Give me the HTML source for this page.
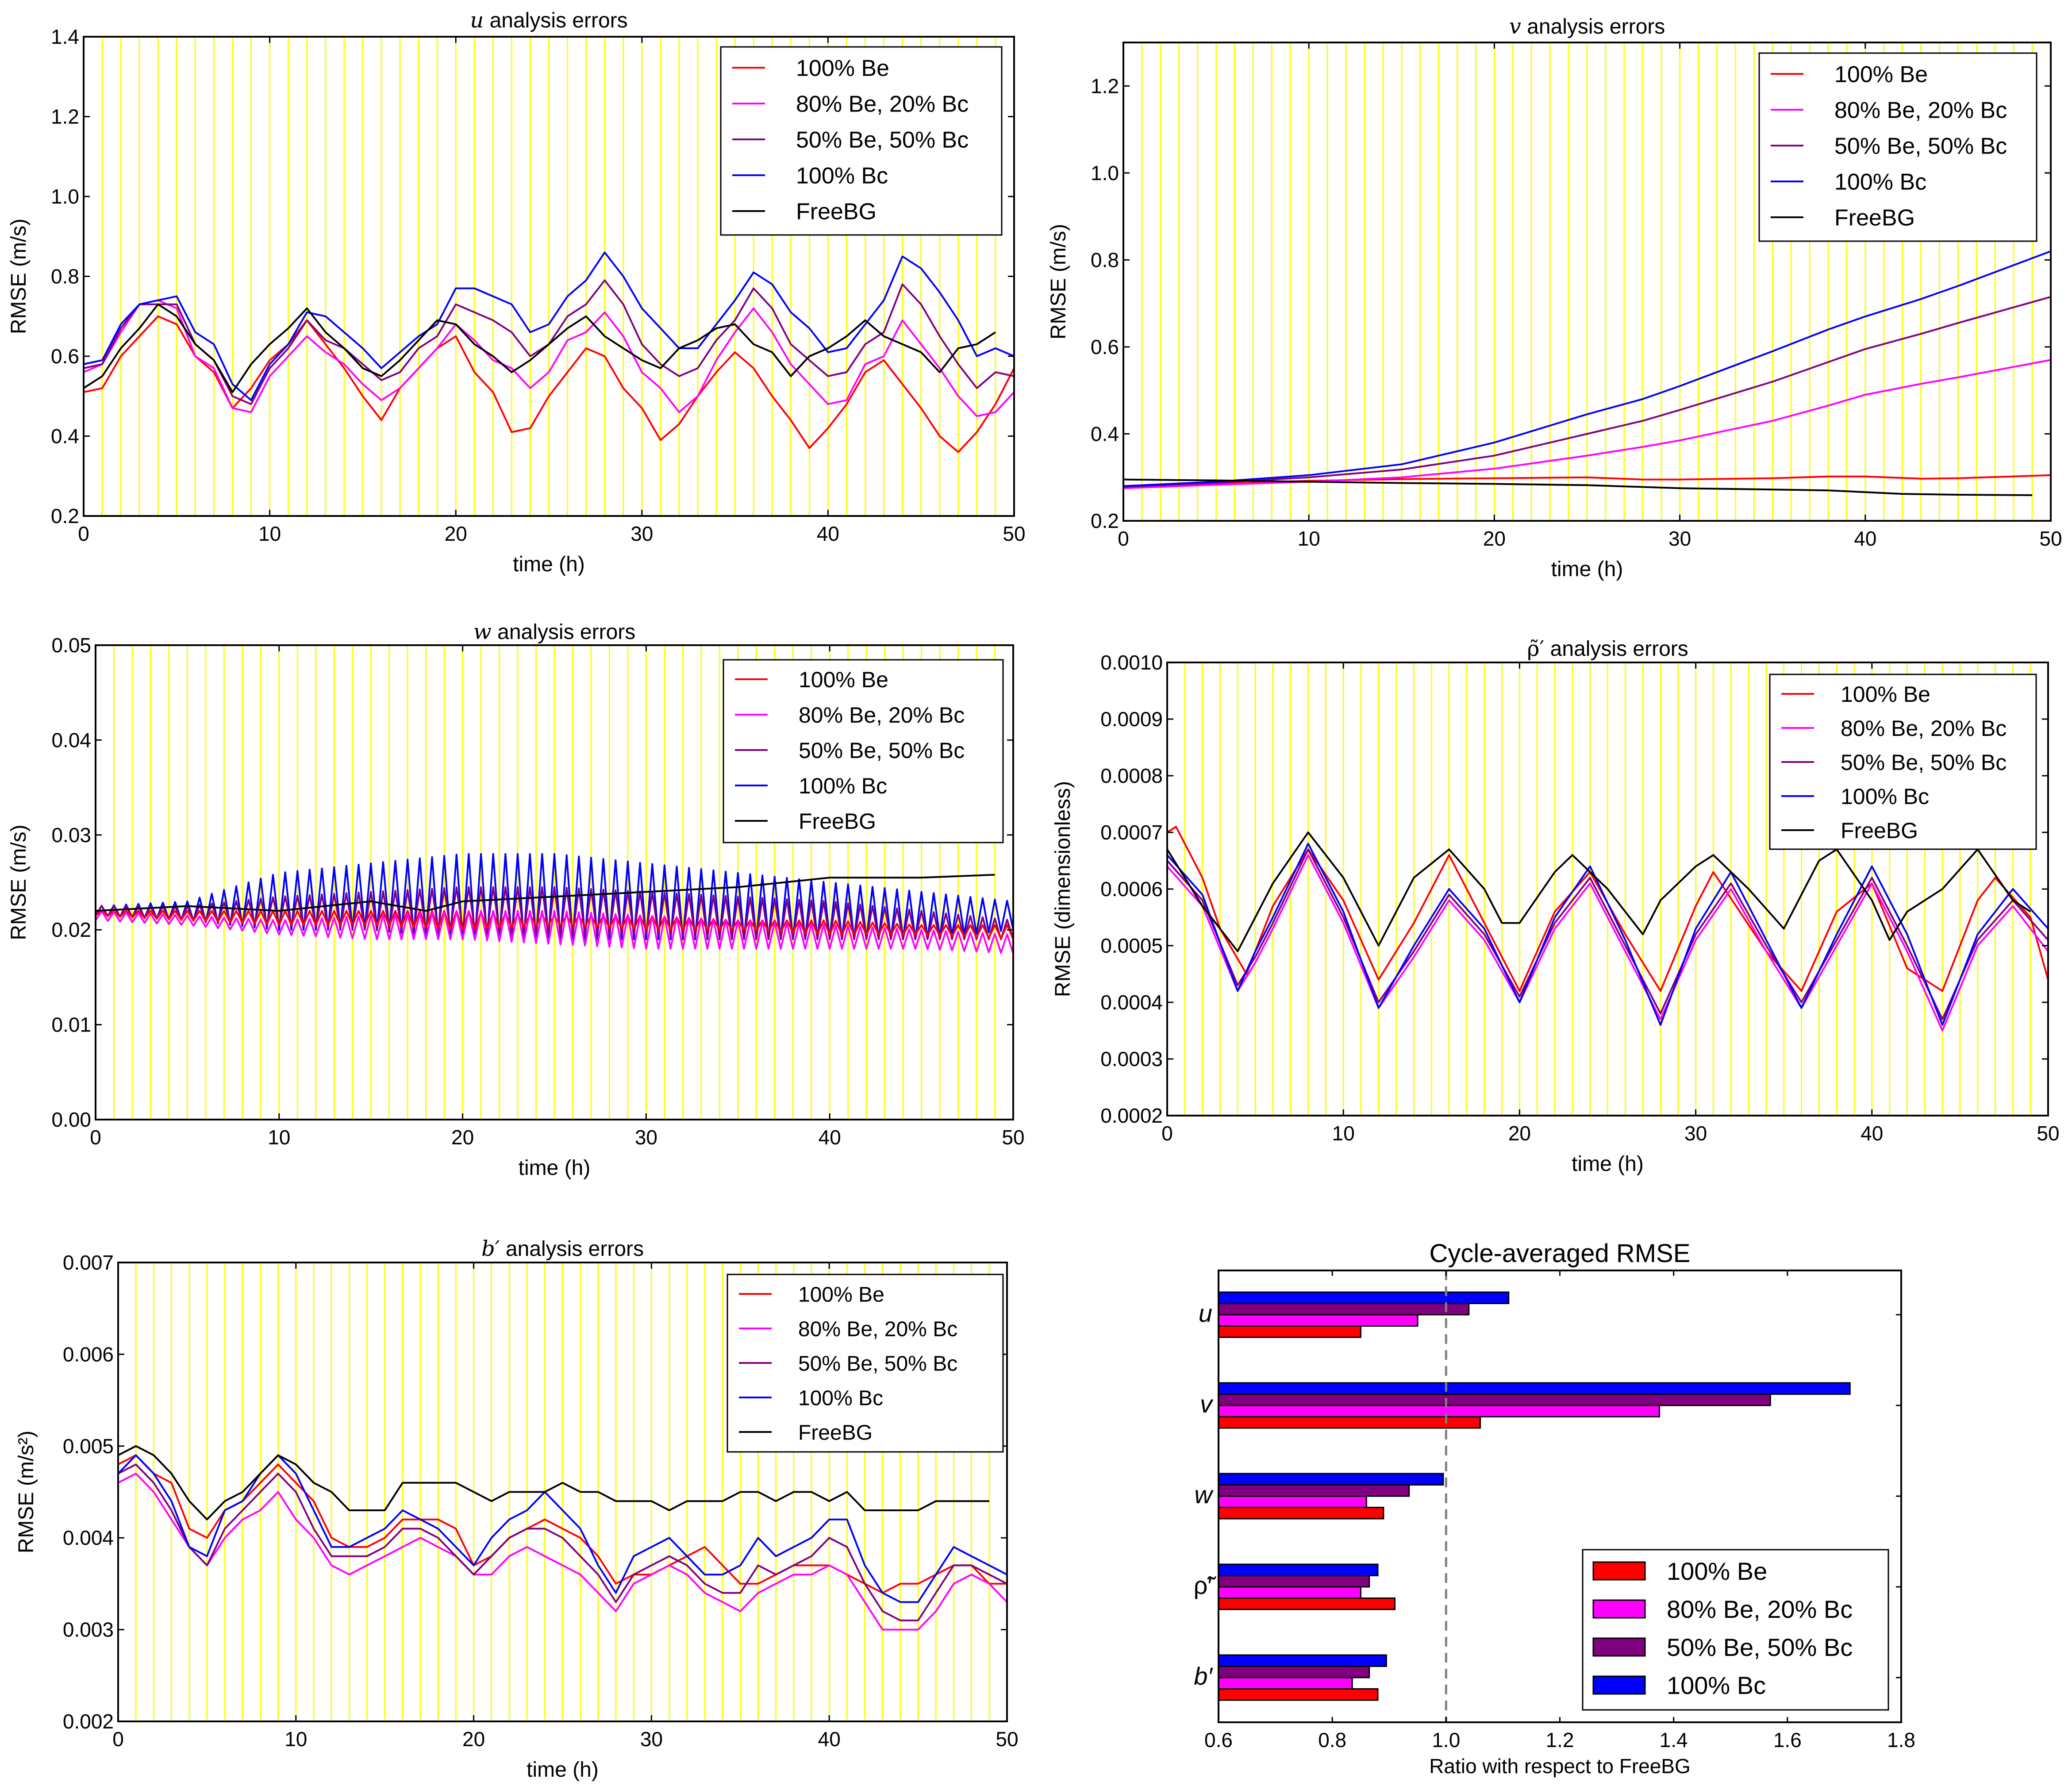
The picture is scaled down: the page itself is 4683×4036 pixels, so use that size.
<!DOCTYPE html>
<html><head><meta charset="utf-8"><style>
html,body{margin:0;padding:0;background:#fff}
svg{display:block}
text{font-family:"Liberation Sans","DejaVu Sans",sans-serif;fill:#000}
</style></head><body>
<svg id="fig" width="4683" height="4036" viewBox="0 0 4683 4036" xmlns="http://www.w3.org/2000/svg"></svg>
<script>
// ---------- data ----------
const hours51 = Array.from({length:51},(_,i)=>i);
const hours50 = Array.from({length:50},(_,i)=>i);
const seriesNames = ["100% Be","80% Be, 20% Bc","50% Be, 50% Bc","100% Bc","FreeBG"];
const seriesColors = ["#ff0000","#ff00ff","#800080","#0000ff","#000000"];

const uRed=[0.51,0.52,0.6,0.65,0.7,0.68,0.6,0.56,0.47,0.52,0.59,0.63,0.69,0.63,0.57,0.5,0.44,0.52,0.57,0.62,0.65,0.56,0.51,0.41,0.42,0.5,0.56,0.62,0.6,0.52,0.47,0.39,0.43,0.5,0.56,0.61,0.57,0.5,0.44,0.37,0.42,0.48,0.56,0.59,0.53,0.47,0.4,0.36,0.41,0.48,0.57];
const uMag=[0.56,0.58,0.66,0.73,0.74,0.72,0.6,0.57,0.47,0.46,0.55,0.6,0.65,0.61,0.58,0.53,0.49,0.52,0.57,0.62,0.68,0.64,0.59,0.57,0.52,0.56,0.64,0.66,0.71,0.65,0.56,0.52,0.46,0.5,0.59,0.66,0.72,0.66,0.58,0.53,0.48,0.49,0.58,0.6,0.69,0.63,0.57,0.5,0.45,0.46,0.51];
const uPur=[0.57,0.58,0.67,0.73,0.73,0.73,0.63,0.59,0.5,0.48,0.57,0.62,0.69,0.64,0.62,0.58,0.54,0.56,0.62,0.65,0.73,0.71,0.69,0.66,0.6,0.63,0.7,0.73,0.79,0.73,0.63,0.58,0.55,0.57,0.64,0.69,0.77,0.72,0.63,0.59,0.55,0.56,0.63,0.66,0.78,0.73,0.65,0.58,0.52,0.56,0.55];
const uBlu=[0.58,0.59,0.68,0.73,0.74,0.75,0.66,0.63,0.53,0.49,0.58,0.63,0.71,0.7,0.66,0.62,0.57,0.61,0.65,0.68,0.77,0.77,0.75,0.73,0.66,0.68,0.75,0.79,0.86,0.8,0.72,0.67,0.62,0.62,0.68,0.74,0.81,0.78,0.71,0.67,0.61,0.62,0.68,0.74,0.85,0.82,0.76,0.69,0.6,0.62,0.6];
const uFree=[0.52,0.55,0.62,0.67,0.73,0.7,0.63,0.59,0.51,0.58,0.63,0.67,0.72,0.66,0.62,0.57,0.55,0.59,0.64,0.69,0.68,0.63,0.6,0.56,0.59,0.63,0.67,0.7,0.65,0.62,0.59,0.57,0.62,0.64,0.67,0.68,0.63,0.61,0.55,0.6,0.62,0.65,0.69,0.65,0.63,0.61,0.56,0.62,0.63,0.66];

const vTimes=[0,5,10,15,20,25,28,30,35,38,40,43,45,50];
const vRed=[0.278,0.285,0.292,0.296,0.298,0.3,0.295,0.295,0.298,0.302,0.302,0.297,0.298,0.305];
const vMag=[0.275,0.283,0.29,0.3,0.32,0.35,0.37,0.385,0.43,0.465,0.49,0.515,0.53,0.57];
const vPur=[0.278,0.288,0.3,0.318,0.35,0.4,0.43,0.455,0.52,0.565,0.595,0.63,0.655,0.715];
const vBlu=[0.28,0.29,0.305,0.33,0.38,0.445,0.48,0.51,0.59,0.64,0.67,0.71,0.74,0.82];
const vFreeT=[0,5,10,15,20,25,30,35,38,42,45,49];
const vFree=[0.295,0.293,0.29,0.287,0.285,0.282,0.275,0.272,0.27,0.262,0.26,0.259];

const wEnvT=[0,5,10,15,20,25,30,35,40,45,50];
const wRedLo=[0.0215,0.021,0.0205,0.0205,0.02,0.0205,0.02,0.02,0.0195,0.0195,0.019];
const wRedHi=[0.022,0.022,0.022,0.022,0.022,0.0215,0.0215,0.021,0.021,0.0205,0.0205];
const wMagLo=[0.021,0.0205,0.0195,0.019,0.019,0.0185,0.018,0.018,0.018,0.018,0.0175];
const wMagHi=[0.022,0.0215,0.021,0.0215,0.022,0.022,0.0215,0.021,0.0205,0.02,0.0195];
const wPurLo=[0.0215,0.021,0.0205,0.02,0.02,0.0195,0.0195,0.019,0.019,0.019,0.019];
const wPurHi=[0.0225,0.0225,0.0235,0.024,0.0245,0.0245,0.024,0.0235,0.023,0.022,0.021];
const wBluLo=[0.0215,0.021,0.02,0.02,0.019,0.019,0.019,0.019,0.019,0.019,0.02];
const wBluHi=[0.0225,0.023,0.026,0.027,0.028,0.028,0.027,0.026,0.025,0.024,0.023];
const wFreeT=[0,5,10,15,18,20,25,30,35,40,45,49];
const wFree=[0.022,0.0225,0.022,0.023,0.022,0.023,0.0235,0.024,0.0245,0.0255,0.0255,0.0258];

const rT=[0,2,4,5,6,8,10,12,14,16,18,20,22,24,26,28,30,32,34,36,38,40,42,44,46,48,50];
const rBlu=[0.00066,0.00059,0.00042,0.00049,0.00055,0.00068,0.00056,0.00039,0.0005,0.0006,0.00053,0.0004,0.00055,0.00064,0.00051,0.00036,0.00053,0.00063,0.00051,0.00039,0.00052,0.00064,0.00052,0.00036,0.00052,0.0006,0.00053];
const rPur=[0.00065,0.00058,0.00043,0.00048,0.00054,0.00067,0.00055,0.0004,0.00049,0.00059,0.00052,0.00041,0.00054,0.00062,0.0005,0.00038,0.00052,0.00061,0.0005,0.0004,0.00051,0.00062,0.0005,0.00037,0.00051,0.00058,0.00051];
const rMag=[0.00064,0.00057,0.00042,0.00047,0.00053,0.00066,0.00054,0.00039,0.00048,0.00058,0.00051,0.0004,0.00053,0.00061,0.00049,0.00037,0.00051,0.0006,0.00049,0.00039,0.0005,0.00061,0.00049,0.00035,0.0005,0.00057,0.00049];
const rRedT=[0,0.5,2,3,4.5,6,8,10,12,14,16,18,20,22,24,26,28,30,31,34,36,38,40,42,44,46,47,49,50];
const rRed=[0.0007,0.00071,0.00062,0.00053,0.00045,0.00057,0.00067,0.00058,0.00044,0.00054,0.00066,0.00054,0.00042,0.00056,0.00063,0.00052,0.00042,0.00057,0.00063,0.00049,0.00042,0.00056,0.00061,0.00046,0.00042,0.00058,0.00062,0.00055,0.00044];
const rFreeT=[0,2,4,6,8,10,12,14,16,18,19,20,22,23,25,27,28,30,31,33,35,37,38,40,41,42,44,46,48,49];
const rFree=[0.00067,0.00057,0.00049,0.00061,0.0007,0.00062,0.0005,0.00062,0.00067,0.0006,0.00054,0.00054,0.00063,0.00066,0.0006,0.00052,0.00058,0.00064,0.00066,0.0006,0.00053,0.00065,0.00067,0.00058,0.00051,0.00056,0.0006,0.00067,0.00058,0.00056];

const bRed=[0.0048,0.0049,0.0047,0.0046,0.0041,0.004,0.0043,0.0044,0.0046,0.0048,0.0046,0.0044,0.004,0.0039,0.0039,0.004,0.0042,0.0042,0.0042,0.0041,0.0037,0.0038,0.004,0.0041,0.0042,0.0041,0.004,0.0038,0.0035,0.0036,0.0036,0.0037,0.0038,0.0039,0.0037,0.0035,0.0035,0.0036,0.0037,0.0037,0.0037,0.0036,0.0035,0.0034,0.0035,0.0035,0.0036,0.0037,0.0037,0.0035,0.0035];
const bMag=[0.0046,0.0047,0.0045,0.0042,0.0039,0.0037,0.004,0.0042,0.0043,0.0045,0.0042,0.004,0.0037,0.0036,0.0037,0.0038,0.0039,0.004,0.0039,0.0038,0.0036,0.0036,0.0038,0.0039,0.0038,0.0037,0.0036,0.0034,0.0032,0.0035,0.0036,0.0037,0.0036,0.0034,0.0033,0.0032,0.0034,0.0035,0.0036,0.0036,0.0037,0.0036,0.0033,0.003,0.003,0.003,0.0032,0.0035,0.0036,0.0035,0.0033];
const bPur=[0.0047,0.0048,0.0046,0.0043,0.0039,0.0037,0.0041,0.0043,0.0045,0.0047,0.0045,0.0041,0.0038,0.0038,0.0038,0.0039,0.0041,0.0041,0.004,0.0038,0.0036,0.0038,0.004,0.0041,0.0041,0.004,0.0038,0.0036,0.0033,0.0036,0.0037,0.0038,0.0037,0.0035,0.0034,0.0034,0.0037,0.0036,0.0037,0.0038,0.004,0.0039,0.0035,0.0032,0.0031,0.0031,0.0034,0.0037,0.0037,0.0036,0.0035];
const bBlu=[0.0047,0.0049,0.0047,0.0044,0.0039,0.0038,0.0043,0.0044,0.0047,0.0049,0.0047,0.0043,0.0039,0.0039,0.004,0.0041,0.0043,0.0042,0.0041,0.0039,0.0037,0.004,0.0042,0.0043,0.0045,0.0043,0.0041,0.0037,0.0034,0.0038,0.0039,0.004,0.0038,0.0036,0.0036,0.0037,0.004,0.0038,0.0039,0.004,0.0042,0.0042,0.0037,0.0034,0.0033,0.0033,0.0036,0.0039,0.0038,0.0037,0.0036];
const bFree=[0.0049,0.005,0.0049,0.0047,0.0044,0.0042,0.0044,0.0045,0.0047,0.0049,0.0048,0.0046,0.0045,0.0043,0.0043,0.0043,0.0046,0.0046,0.0046,0.0046,0.0045,0.0044,0.0045,0.0045,0.0045,0.0046,0.0045,0.0045,0.0044,0.0044,0.0044,0.0043,0.0044,0.0044,0.0044,0.0045,0.0045,0.0044,0.0045,0.0045,0.0044,0.0045,0.0043,0.0043,0.0043,0.0043,0.0044,0.0044,0.0044,0.0044];

const barCategories=["u","v","w","ρ̃′","b′"];
const barRed=[0.85,1.06,0.89,0.91,0.88];
const barMag=[0.95,1.375,0.86,0.85,0.835];
const barPur=[1.04,1.57,0.935,0.865,0.865];
const barBlu=[1.11,1.71,0.995,0.88,0.895];
const barXTicks=[0.6,0.8,1.0,1.2,1.4,1.6,1.8];

// ---------- helpers ----------
const NS="http://www.w3.org/2000/svg";
const fig=document.getElementById('fig');
function mk(tag,attrs,parent){const e=document.createElementNS(NS,tag);for(const k in attrs)e.setAttribute(k,attrs[k]);(parent||fig).appendChild(e);return e;}
function txt(x,y,s,size,anchor,parent,extra){const e=mk('text',Object.assign({x:x,y:y,'font-size':size,'text-anchor':anchor||'middle'},extra||{}),parent);e.textContent=s;return e;}

function panel(cfg){
  const g=mk('g',{});
  
  
  const {L,R,T,B,x0,x1,y0,y1}=cfg;
  const sx=v=>L+(v-x0)/(x1-x0)*(R-L);
  const sy=v=>B-(v-y0)/(y1-y0)*(B-T);
  for(let h=1;h<50;h++){const l=mk('line',{x1:sx(h),x2:sx(h),y1:T,y2:B,stroke:'#ffff00','stroke-width':3},g);
    }
  cfg.series.forEach((s,i)=>{
    const d=s.t.map((t,j)=>(j?'L':'M')+sx(t).toFixed(1)+','+sy(s.v[j]).toFixed(1)).join('');
    const p=mk('path',{d:d,fill:'none',stroke:s.color,'stroke-width':4,'stroke-linejoin':'round'},g);
    
    
  });
  const fr=mk('rect',{x:L,y:T,width:R-L,height:B-T,fill:'none',stroke:'#000','stroke-width':4},g);
  
  [0,10,20,30,40,50].forEach(v=>{
    mk('line',{x1:sx(v),x2:sx(v),y1:B,y2:B-14,stroke:'#000','stroke-width':3},g);
    mk('line',{x1:sx(v),x2:sx(v),y1:T,y2:T+14,stroke:'#000','stroke-width':3},g);
    const t=txt(sx(v),B+56,String(v),46,'middle',g);
    
  });
  cfg.yticks.forEach((v,k)=>{
    mk('line',{x1:L,x2:L+14,y1:sy(v),y2:sy(v),stroke:'#000','stroke-width':3},g);
    mk('line',{x1:R,x2:R-14,y1:sy(v),y2:sy(v),stroke:'#000','stroke-width':3},g);
    const t=txt(L-10,sy(v)+16,cfg.ylabels[k],46,'end',g);
    
  });
  const xl=txt((L+R)/2,B+125,'time (h)',48,'middle',g);
  
  const yl=txt(0,0,cfg.ylabel,48,'middle',g,{transform:`translate(${cfg.ylx},${(T+B)/2}) rotate(-90)`});
  
  const ti=mk('text',{x:(L+R)/2,y:cfg.titleY,'font-size':48,'text-anchor':'middle'},g);
  
  ti.innerHTML=`<tspan font-family="DejaVu Serif" font-style="${cfg.symStyle||'italic'}">${cfg.sym}</tspan> analysis errors`;
  const lg=cfg.leg;
  const lb=mk('rect',{x:lg.x,y:lg.y,width:lg.w,height:lg.h,fill:'#fff',stroke:'#000','stroke-width':3},g);
  
  seriesNames.forEach((n,i)=>{
    const yy=lg.y+lg.first+i*lg.step;
    const ln=mk('line',{x1:lg.x+26,x2:lg.x+100,y1:yy,y2:yy,stroke:seriesColors[i],'stroke-width':4},g);
    
    const t=txt(lg.x+lg.tx,yy+lg.fs*0.36,n,lg.fs,'start',g);
    
  });
}
function zig(lo,hi){
  const t=[],v=[];
  for(let k=0;k<=150;k++){const tt=k/3;const seg=Math.min(9,Math.floor(tt/5));const f=(tt-wEnvT[seg])/5;
    const l=lo[seg]+(lo[seg+1]-lo[seg])*f,h=hi[seg]+(hi[seg+1]-hi[seg])*f;t.push(tt);v.push(k%2?h:l);}
  return {t,v};
}
const S=(key,ci,t,v)=>({key,color:seriesColors[ci],t,v});

panel({name:'u-panel',L:189,R:2292,T:83,B:1166,x0:0,x1:50,y0:0.2,y1:1.4,
  yticks:[0.2,0.4,0.6,0.8,1.0,1.2,1.4],ylabels:['0.2','0.4','0.6','0.8','1.0','1.2','1.4'],
  ylabel:'RMSE (m/s)',ylx:58,titleY:62,sym:'u',
  leg:{x:1629,y:106,w:635,h:425,first:47,step:81,tx:170,fs:52},
  series:[S('100-be',0,hours51,uRed),S('80-be',1,hours51,uMag),S('50-be',2,hours51,uPur),S('100-bc',3,hours51,uBlu),S('freebg',4,hours50,uFree)]});

panel({name:'v-panel',L:2539,R:4635,T:96,B:1177,x0:0,x1:50,y0:0.2,y1:1.3,
  yticks:[0.2,0.4,0.6,0.8,1.0,1.2],ylabels:['0.2','0.4','0.6','0.8','1.0','1.2'],
  ylabel:'RMSE (m/s)',ylx:2408,titleY:76,sym:'v',
  leg:{x:3976,y:120,w:627,h:425,first:47,step:81,tx:170,fs:52},
  series:[S('100-be',0,vTimes,vRed),S('80-be',1,vTimes,vMag),S('50-be',2,vTimes,vPur),S('100-bc',3,vTimes,vBlu),S('freebg',4,vFreeT,vFree)]});

const zr=zig(wRedLo,wRedHi),zm=zig(wMagLo,wMagHi),zp=zig(wPurLo,wPurHi),zb=zig(wBluLo,wBluHi);
panel({name:'w-panel',L:216,R:2290,T:1458,B:2530,x0:0,x1:50,y0:0,y1:0.05,
  yticks:[0,0.01,0.02,0.03,0.04,0.05],ylabels:['0.00','0.01','0.02','0.03','0.04','0.05'],
  ylabel:'RMSE (m/s)',ylx:58,titleY:1444,sym:'w',
  leg:{x:1635,y:1491,w:632,h:413,first:44,step:80,tx:170,fs:50},
  series:[S('100-bc',3,zb.t,zb.v),S('50-be',2,zp.t,zp.v),S('100-be',0,zr.t,zr.v),S('80-be',1,zm.t,zm.v),S('freebg',4,wFreeT,wFree)]});

panel({name:'rho-panel',L:2638,R:4629,T:1497,B:2521,x0:0,x1:50,y0:0.0002,y1:0.001,
  yticks:[0.0002,0.0003,0.0004,0.0005,0.0006,0.0007,0.0008,0.0009,0.001],
  ylabels:['0.0002','0.0003','0.0004','0.0005','0.0006','0.0007','0.0008','0.0009','0.0010'],
  ylabel:'RMSE (dimensionless)',ylx:2418,titleY:1482,sym:'ρ̃′',symStyle:'normal',
  leg:{x:4000,y:1524,w:602,h:395,first:44,step:77,tx:160,fs:50},
  series:[S('100-be',0,rRedT,rRed),S('80-be',1,rT,rMag),S('50-be',2,rT,rPur),S('100-bc',3,rT,rBlu),S('freebg',4,rFreeT,rFree)]});

panel({name:'b-panel',L:267,R:2276,T:2853,B:3890,x0:0,x1:50,y0:0.002,y1:0.007,
  yticks:[0.002,0.003,0.004,0.005,0.006,0.007],ylabels:['0.002','0.003','0.004','0.005','0.006','0.007'],
  ylabel:'RMSE (m/s²)',ylx:75,titleY:2838,sym:'b′',
  leg:{x:1644,y:2880,w:623,h:401,first:44,step:78,tx:160,fs:48},
  series:[S('100-be',0,hours51,bRed),S('80-be',1,hours51,bMag),S('50-be',2,hours51,bPur),S('100-bc',3,hours51,bBlu),S('freebg',4,hours50,bFree)]});

// ---------- bar chart ----------
(function(){
  const g=mk('g',{});
  
  
  const L=2754,R=4297,T=2871,B=3892,x0=0.6,x1=1.8;
  const sx=v=>L+(v-x0)/(x1-x0)*(R-L);
  const groupY=i=>2971+i*205;
  const bh=25.5;
  const cols=[seriesColors[3],seriesColors[2],seriesColors[1],seriesColors[0]];
  const vals=[barBlu,barPur,barMag,barRed];
  const keys=['100-bc','50-be','80-be','100-be'];
  barCategories.forEach((c,i)=>{
    vals.forEach((arr,k)=>{
      const y=groupY(i)-2*bh+k*bh;
      const r=mk('rect',{x:L,y:y,width:sx(arr[i])-L,height:bh,fill:cols[k],stroke:'#000','stroke-width':3},g);
      
      
    });
    mk('line',{x1:R,x2:R-12,y1:groupY(i),y2:groupY(i),stroke:'#000','stroke-width':3},g);
    mk('line',{x1:L,x2:L+12,y1:groupY(i),y2:groupY(i),stroke:'#000','stroke-width':3},g);
    const t=txt(L-14,groupY(i)+16,c,56,'end',g,{'font-family':'DejaVu Serif','font-style':i===3?'normal':'italic'});
    
  });
  const ref=mk('line',{x1:sx(1),x2:sx(1),y1:T,y2:B,stroke:'#808080','stroke-width':5,'stroke-dasharray':'22,14'},g);
  
  const fr=mk('rect',{x:L,y:T,width:R-L,height:B-T,fill:'none',stroke:'#000','stroke-width':4},g);
  
  barXTicks.forEach(v=>{
    mk('line',{x1:sx(v),x2:sx(v),y1:B,y2:B-12,stroke:'#000','stroke-width':3},g);
    mk('line',{x1:sx(v),x2:sx(v),y1:T,y2:T+12,stroke:'#000','stroke-width':3},g);
    const t=txt(sx(v),B+56,v.toFixed(1),46,'middle',g);
    
  });
  const xl=txt((L+R)/2,B+115,'Ratio with respect to FreeBG',46,'middle',g);
  
  const ti=txt((L+R)/2,2852,'Cycle-averaged RMSE',58,'middle',g);
  
  const lx=3577,ly=3502;
  const lb=mk('rect',{x:lx,y:ly,width:691,height:362,fill:'#fff',stroke:'#000','stroke-width':3},g);
  
  const lc=[seriesColors[0],seriesColors[1],seriesColors[2],seriesColors[3]];
  for(let i=0;i<4;i++){
    const yy=ly+48+i*86;
    const sw=mk('rect',{x:lx+24,y:yy-20,width:117,height:40,fill:lc[i],stroke:'#000','stroke-width':3},g);
    
    const t=txt(lx+190,yy+20,seriesNames[i],56,'start',g);
    
  }
})();
</script>
</body></html>
